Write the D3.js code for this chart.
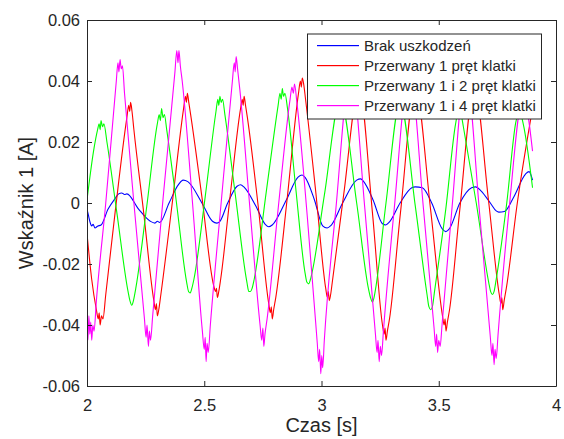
<!DOCTYPE html>
<html>
<head>
<meta charset="utf-8">
<script src="https://cdn.jsdelivr.net/npm/d3@7"></script>
<style>
  html, body { margin: 0; padding: 0; background: #fff; }
  svg { display: block; font-family: "Liberation Sans", Arial, sans-serif; }
</style>
</head>
<body>
<svg id="chart" width="564" height="439"></svg>
<script>
// ---------- data ----------
const seriesNames = ["Brak uszkodzeń", "Przerwany 1 pręt klatki", "Przerwany 1 i 2 pręt klatki", "Przerwany 1 i 4 pręt klatki"];
const seriesColors = ["#0000ff", "#ff0000", "#00ff00", "#ff00ff"];
const xTicks = [2, 2.5, 3, 3.5, 4];
const yTicks = [-0.06, -0.04, -0.02, 0, 0.02, 0.04, 0.06];
const yTickLabels = ["-0.06", "-0.04", "-0.02", "0", "0.02", "0.04", "0.06"];
const xTickLabels = ["2", "2.5", "3", "3.5", "4"];

// [time s, value A]
const blueData = [
  [2.000, -0.002], [2.006, -0.004], [2.012, -0.006], [2.020, -0.0075], [2.026, -0.0070],
  [2.034, -0.0082], [2.045, -0.0076], [2.060, -0.0072], [2.090, -0.002],
  [2.120, 0.0015], [2.135, 0.0030], [2.148, 0.0033], [2.160, 0.0028], [2.170, 0.0030],
  [2.220, -0.002], [2.270, -0.0060], [2.290, -0.0066], [2.300, -0.0060], [2.310, -0.0064],
  [2.350, 0.000], [2.390, 0.0060], [2.410, 0.0075], [2.430, 0.0070], [2.490, 0.000],
  [2.535, -0.0060], [2.554, -0.0066], [2.565, -0.0062], [2.600, 0.000], [2.640, 0.0055],
  [2.655, 0.0060], [2.670, 0.0052], [2.720, -0.001], [2.760, -0.0070], [2.775, -0.0078],
  [2.790, -0.0072], [2.850, 0.001], [2.900, 0.0085], [2.917, 0.0092], [2.930, 0.0084],
  [2.970, 0.001], [3.005, -0.0075], [3.024, -0.0082], [3.040, -0.0074], [3.090, 0.000],
  [3.150, 0.0075], [3.167, 0.0079], [3.180, 0.0070], [3.220, 0.001], [3.260, -0.0068],
  [3.274, -0.0072], [3.290, -0.0062], [3.335, 0.000], [3.385, 0.0050], [3.400, 0.0053],
  [3.430, 0.0050], [3.470, 0.000], [3.515, -0.0085], [3.530, -0.0094], [3.545, -0.0085],
  [3.590, 0.000], [3.640, 0.0050], [3.658, 0.0053], [3.680, 0.0040], [3.720, 0.000],
  [3.745, -0.0026], [3.756, -0.0030], [3.780, -0.0028], [3.820, 0.002], [3.870, 0.0095],
  [3.885, 0.0103], [3.900, 0.0075]
];
const redData = [
  [2.000, -0.010], [2.020, -0.025], [2.040, -0.035], [2.048, -0.038], [2.052, -0.036],
  [2.056, -0.040], [2.062, -0.037], [2.068, -0.038], [2.080, -0.030], [2.120, -0.003],
  [2.170, 0.028], [2.178, 0.032], [2.182, 0.030], [2.186, 0.033], [2.192, 0.030], [2.200, 0.024],
  [2.240, -0.002],
  [2.285, -0.032], [2.292, -0.035], [2.296, -0.033], [2.300, -0.037], [2.306, -0.035], [2.315, -0.030],
  [2.362, -0.001],
  [2.412, 0.031], [2.420, 0.035], [2.424, 0.033], [2.428, 0.036], [2.434, 0.033], [2.442, 0.029],
  [2.490, 0.002],
  [2.540, -0.027], [2.548, -0.029], [2.552, -0.028], [2.556, -0.031], [2.562, -0.029], [2.570, -0.025],
  [2.610, 0.002],
  [2.655, 0.031], [2.662, 0.034], [2.666, 0.032], [2.670, 0.035], [2.676, 0.032], [2.684, 0.028],
  [2.730, -0.001],
  [2.775, -0.033], [2.782, -0.036], [2.786, -0.034], [2.790, -0.038], [2.796, -0.035], [2.805, -0.031],
  [2.853, 0.001],
  [2.902, 0.036], [2.910, 0.040], [2.914, 0.038], [2.918, 0.041], [2.924, 0.039], [2.932, 0.034],
  [2.975, 0.004],
  [3.018, -0.028], [3.025, -0.031], [3.029, -0.029], [3.033, -0.032], [3.039, -0.030], [3.046, -0.026],
  [3.095, 0.003], [3.160, 0.038], [3.217, -0.003],
  [3.260, -0.040], [3.267, -0.043], [3.271, -0.041], [3.275, -0.045], [3.281, -0.042], [3.290, -0.038],
  [3.337, -0.003], [3.400, 0.038], [3.465, -0.002],
  [3.516, -0.037], [3.523, -0.040], [3.527, -0.038], [3.531, -0.042], [3.537, -0.039], [3.546, -0.035],
  [3.590, -0.002], [3.652, 0.038], [3.712, 0.001],
  [3.758, -0.030], [3.765, -0.033], [3.769, -0.031], [3.773, -0.035], [3.779, -0.032], [3.788, -0.028],
  [3.835, 0.000], [3.900, 0.031]
];
const greenData = [
  [2.000, 0.001], [2.030, 0.018], [2.045, 0.024], [2.052, 0.026], [2.056, 0.024], [2.060, 0.027],
  [2.066, 0.025], [2.072, 0.026], [2.085, 0.020], [2.127, -0.003],
  [2.175, -0.029], [2.183, -0.032], [2.191, -0.0335], [2.198, -0.032], [2.208, -0.028],
  [2.255, -0.001],
  [2.300, 0.026], [2.308, 0.029], [2.313, 0.027], [2.318, 0.031], [2.324, 0.028], [2.330, 0.029], [2.340, 0.024],
  [2.380, 0.001],
  [2.425, -0.026], [2.433, -0.029], [2.440, -0.0295], [2.447, -0.028], [2.456, -0.025],
  [2.504, 0.002],
  [2.550, 0.030], [2.558, 0.034], [2.562, 0.032], [2.567, 0.035], [2.572, 0.033], [2.578, 0.034], [2.588, 0.029],
  [2.632, 0.003],
  [2.682, -0.026], [2.690, -0.029], [2.697, -0.029], [2.704, -0.028], [2.713, -0.025],
  [2.765, 0.004],
  [2.815, 0.032], [2.823, 0.036], [2.828, 0.034], [2.833, 0.0375], [2.838, 0.035], [2.844, 0.036], [2.855, 0.031],
  [2.890, 0.005],
  [2.930, -0.023], [2.938, -0.026], [2.946, -0.0265], [2.953, -0.025], [2.962, -0.022],
  [3.013, 0.003], [3.080, 0.034], [3.150, 0.000],
  [3.200, -0.028], [3.209, -0.031], [3.217, -0.0325], [3.224, -0.031], [3.233, -0.027],
  [3.275, 0.000], [3.335, 0.033], [3.400, -0.001],
  [3.450, -0.030], [3.458, -0.034], [3.466, -0.035], [3.473, -0.034], [3.482, -0.029],
  [3.530, -0.002],
  [3.572, 0.026], [3.580, 0.029], [3.585, 0.028], [3.590, 0.031], [3.596, 0.029], [3.605, 0.025],
  [3.660, 0.000],
  [3.713, -0.026], [3.721, -0.029], [3.729, -0.030], [3.736, -0.029], [3.745, -0.025],
  [3.790, 0.000], [3.830, 0.027], [3.845, 0.030], [3.860, 0.026], [3.900, 0.005]
];
const magentaData = [
  [2.000, -0.040], [2.004, -0.045], [2.008, -0.037], [2.012, -0.043], [2.016, -0.039],
  [2.020, -0.045], [2.025, -0.040], [2.030, -0.042], [2.040, -0.032], [2.080, 0.000],
  [2.125, 0.040], [2.132, 0.046], [2.136, 0.043], [2.141, 0.047], [2.146, 0.044], [2.151, 0.045], [2.160, 0.036],
  [2.200, 0.000],
  [2.245, -0.038], [2.252, -0.044], [2.256, -0.040], [2.262, -0.047], [2.266, -0.042], [2.271, -0.045], [2.280, -0.037],
  [2.325, 0.002],
  [2.375, 0.043], [2.383, 0.050], [2.388, 0.046], [2.392, 0.050], [2.398, 0.045], [2.406, 0.040],
  [2.450, 0.000],
  [2.492, -0.042], [2.500, -0.048], [2.504, -0.044], [2.508, -0.052], [2.512, -0.046], [2.517, -0.049], [2.526, -0.040],
  [2.572, 0.000],
  [2.620, 0.040], [2.628, 0.046], [2.632, 0.043], [2.636, 0.048], [2.642, 0.044], [2.652, 0.037],
  [2.695, -0.002],
  [2.738, -0.040], [2.745, -0.045], [2.750, -0.041], [2.754, -0.047], [2.759, -0.043], [2.768, -0.038],
  [2.815, -0.002],
  [2.866, 0.034], [2.874, 0.038], [2.880, 0.036], [2.885, 0.039], [2.895, 0.033],
  [2.940, -0.005],
  [2.982, -0.046], [2.988, -0.052], [2.992, -0.048], [2.997, -0.056], [3.001, -0.050], [3.005, -0.054], [3.012, -0.045],
  [3.060, -0.003], [3.125, 0.044], [3.185, -0.002],
  [3.230, -0.043], [3.237, -0.049], [3.241, -0.045], [3.246, -0.052], [3.251, -0.047], [3.256, -0.050], [3.264, -0.042],
  [3.310, -0.002], [3.375, 0.044], [3.435, -0.002],
  [3.480, -0.041], [3.487, -0.047], [3.491, -0.043], [3.495, -0.049], [3.500, -0.045], [3.506, -0.047], [3.514, -0.040],
  [3.555, -0.003], [3.615, 0.043], [3.675, -0.004],
  [3.720, -0.044], [3.727, -0.050], [3.731, -0.046], [3.736, -0.053], [3.740, -0.048], [3.745, -0.051], [3.753, -0.043],
  [3.800, -0.002], [3.860, 0.035], [3.900, 0.017]
];
const allSeries = [blueData, redData, greenData, magentaData];

// ---------- layout ----------
const svg = d3.select("#chart");
const plotL = 87, plotR = 556, plotT = 20, plotB = 386;
const axisColor = "#262626";

const x = d3.scaleLinear().domain([2, 4]).range([plotL, plotR]);
const y = d3.scaleLinear().domain([-0.06, 0.06]).range([plotB, plotT]);

svg.append("rect").attr("x", plotL).attr("y", plotT)
  .attr("width", plotR - plotL).attr("height", plotB - plotT).attr("fill", "#fff");

svg.append("clipPath").attr("id", "clip").append("rect")
  .attr("x", plotL).attr("y", plotT).attr("width", plotR - plotL).attr("height", plotB - plotT);

const line = d3.line().x(d => x(d[0])).y(d => y(d[1])).curve(d3.curveMonotoneX);
const gLines = svg.append("g").attr("clip-path", "url(#clip)");
allSeries.forEach((data, i) => {
  gLines.append("path").datum(data)
    .attr("fill", "none")
    .attr("stroke", seriesColors[i])
    .attr("stroke-width", 1.1)
    .attr("stroke-linejoin", "round")
    .attr("d", line);
});

const tickLen = 5;
const bottomAxis = d3.axisBottom(x).tickValues(xTicks).tickSizeInner(-tickLen).tickSizeOuter(0)
  .tickFormat((d, i) => xTickLabels[i]).tickPadding(13);
const topAxis = d3.axisTop(x).tickValues(xTicks).tickSizeInner(-tickLen).tickSizeOuter(0).tickFormat("");
const leftAxis = d3.axisLeft(y).tickValues(yTicks).tickSizeInner(-tickLen).tickSizeOuter(0)
  .tickFormat((d, i) => yTickLabels[i]).tickPadding(7);
const rightAxis = d3.axisRight(y).tickValues(yTicks).tickSizeInner(-tickLen).tickSizeOuter(0).tickFormat("");

function styleAxis(g) {
  g.select(".domain").attr("stroke", axisColor).attr("stroke-width", 1);
  g.selectAll(".tick line").attr("stroke", axisColor).attr("stroke-width", 1);
  g.selectAll(".tick text").attr("fill", axisColor)
    .style("font-family", "'Liberation Sans', Arial, sans-serif").style("font-size", "16.5px");
}
svg.append("g").attr("transform", `translate(0,${plotB})`).call(bottomAxis).call(styleAxis);
svg.append("g").attr("transform", `translate(0,${plotT})`).call(topAxis).call(styleAxis);
svg.append("g").attr("transform", `translate(${plotL},0)`).call(leftAxis).call(styleAxis);
svg.append("g").attr("transform", `translate(${plotR},0)`).call(rightAxis).call(styleAxis);

svg.append("text").attr("x", (plotL + plotR) / 2).attr("y", 432)
  .attr("text-anchor", "middle").attr("fill", axisColor)
  .style("font-size", "20px").text("Czas [s]");
svg.append("text").attr("transform", `translate(33,${(plotT + plotB) / 2}) rotate(-90)`)
  .attr("text-anchor", "middle").attr("fill", axisColor)
  .style("font-size", "20px").text("Wskaźnik 1 [A]");

// legend
const lgX = 307, lgY = 33.5, lgW = 234, lgH = 85;
const lg = svg.append("g");
lg.append("rect").attr("x", lgX + 0.5).attr("y", lgY + 0.5).attr("width", lgW).attr("height", lgH)
  .attr("fill", "#fff").attr("stroke", axisColor).attr("stroke-width", 1);
seriesNames.forEach((name, i) => {
  const cy = 45 + i * 20;
  lg.append("rect").attr("x", 317).attr("y", cy).attr("width", 42).attr("height", 1.2)
    .attr("fill", seriesColors[i]);
  lg.append("text").attr("x", 364).attr("y", cy + 5.5).attr("fill", axisColor)
    .style("font-size", "15px").text(name);
});
</script>
</body>
</html>
